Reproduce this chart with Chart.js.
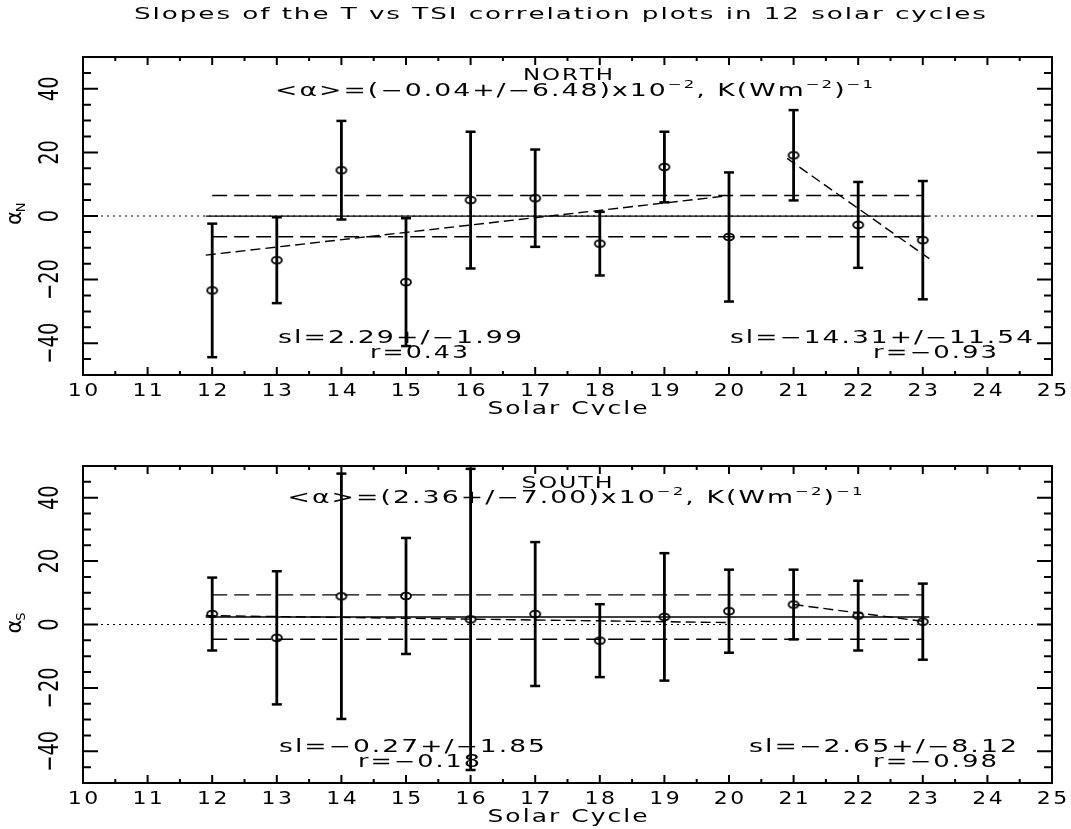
<!DOCTYPE html>
<html>
<head>
<meta charset="utf-8">
<script src="https://cdn.jsdelivr.net/npm/chart.js@4.4.0/dist/chart.umd.min.js"></script>
<style>
  html, body { margin: 0; padding: 0; background: #fff; }
  #wrap { position: relative; width: 1071px; height: 829px; }
  canvas { position: absolute; left: 0; }
  #north { top: 0; }
  #south { top: 415px; }
</style>
</head>
<body>
<div id="wrap">
  <canvas id="north" width="1071" height="415"></canvas>
  <canvas id="south" width="1071" height="414"></canvas>
</div>
<script>
// solar cycles and slopes
var cycles = [12, 13, 14, 15, 16, 17, 18, 19, 20, 21, 22, 23];

var northAlpha = [-23.4, -13.9, 14.4, -20.8, 5.0, 5.6, -8.7, 15.4, -6.6, 19.1, -2.8, -7.6];
var northErr   = [21.0, 13.5, 15.5, 20.1, 21.5, 15.3, 10.0, 11.1, 20.3, 14.2, 13.5, 18.6];
var northMean  = -0.04;
var northSigma = 6.48;

var southAlpha = [3.3, -4.2, 8.9, 9.0, 1.6, 3.3, -5.1, 2.4, 4.2, 6.3, 2.8, 0.9];
var southErr   = [11.5, 21.0, 38.7, 18.3, 47.5, 22.7, 11.5, 20.1, 13.1, 11.0, 11.0, 12.0];
var southMean  = 2.36;
var southSigma = 7.00;

// end points of the fitted trend lines
var northFit1X = [11.9, 20.0], northFit1Y = [-12.3, 6.4];
var northFit2X = [20.9, 23.1], northFit2Y = [18.1, -13.4];
var southFit1X = [11.9, 20.0], southFit1Y = [2.8, 0.6];
var southFit2X = [21.0, 23.0], southFit2Y = [6.3, 1.0];

var meanSpan  = [11.9, 23.1];
var sigmaSpan = [12.0, 23.0];

var yTickLabels = [-40, -20, 0, 20, 40];

var FONT = '"DejaVu Sans", sans-serif';

// open ellipse marker
var ring = document.createElement('canvas');
ring.width = 14; ring.height = 10;
(function () {
    var g = ring.getContext('2d');
    g.strokeStyle = '#000';
    g.lineWidth = 1.8;
    g.beginPath();
    g.ellipse(7, 5, 5, 3.4, 0, 0, 2 * Math.PI);
    g.stroke();
})();

// text with wide, stretched glyphs like the plotting package's stroke font
function drawText(ctx, segs, x, y, size, opt) {
    if (typeof segs === 'string') segs = [[segs, false]];
    opt = opt || {};
    var sp = opt.spacing != null ? opt.spacing : size * 0.12;
    var w = 0, n = 0;
    segs.forEach(function (s) {
        ctx.font = (s[1] ? size * 0.62 : size) + 'px ' + FONT;
        for (var ch of s[0]) { w += ctx.measureText(ch).width; n++; }
    });
    var sx = opt.width ? (opt.width - sp * (n - 1)) / w : (opt.scale || 1);
    var total = w * sx + sp * (n - 1);
    var cx = opt.align === 'center' ? x - total / 2 : (opt.align === 'right' ? x - total : x);
    ctx.textAlign = 'left';
    ctx.textBaseline = 'alphabetic';
    segs.forEach(function (s) {
        ctx.font = (s[1] ? size * 0.62 : size) + 'px ' + FONT;
        var dy = s[1] ? -size * 0.45 : 0;
        for (var ch of s[0]) {
            ctx.save();
            ctx.translate(cx, y + dy);
            ctx.scale(sx, 1);
            ctx.fillText(ch, 0, 0);
            ctx.restore();
            cx += ctx.measureText(ch).width * sx + sp;
        }
    });
}

var framePlugin = {
    id: 'frame',
    afterDraw: function (chart, args, o) {
        var ctx = chart.ctx, a = chart.chartArea;
        var xs = chart.scales.x, ys = chart.scales.y;
        ctx.save();
        ctx.fillStyle = '#000';
        ctx.strokeStyle = '#000';
        ctx.lineWidth = 2;
        ctx.strokeRect(a.left, a.top, a.right - a.left, a.bottom - a.top);

        ctx.beginPath();
        for (var v = xs.min; v <= xs.max + 1e-9; v += 0.5) {
            var px = xs.getPixelForValue(v);
            var len = (v % 1 === 0) ? 8 : 4;
            ctx.moveTo(px, a.bottom); ctx.lineTo(px, a.bottom - len);
            ctx.moveTo(px, a.top); ctx.lineTo(px, a.top + len);
        }
        for (var w = ys.min; w <= ys.max + 1e-9; w += 5) {
            var py = ys.getPixelForValue(w);
            var l = (w % 20 === 0) ? 15 : 8;
            ctx.moveTo(a.left, py); ctx.lineTo(a.left + l, py);
            ctx.moveTo(a.right, py); ctx.lineTo(a.right - l, py);
        }
        ctx.stroke();

        // x tick labels from the library's ticks
        xs.ticks.forEach(function (t) {
            drawText(ctx, String(t.value), xs.getPixelForValue(t.value), a.bottom + 20.5, 18, { scale: 1.22, spacing: 2.5, align: 'center' });
        });
        drawText(ctx, 'Solar Cycle', (a.left + a.right) / 2, a.bottom + 38.5, 17, { width: 160, align: 'center' });

        // rotated y tick labels
        yTickLabels.forEach(function (v) {
            var py = ys.getPixelForValue(v);
            ctx.save();
            ctx.translate(58, py);
            ctx.rotate(-Math.PI / 2);
            ctx.scale(0.72, 1);
            ctx.font = '27px ' + FONT;
            ctx.textAlign = 'center';
            ctx.textBaseline = 'alphabetic';
            ctx.fillText(v < 0 ? '\u2212' + Math.abs(v) : String(v), 0, 0);
            ctx.restore();
        });

        // y axis title, alpha with subscript
        var p0 = ys.getPixelForValue(0);
        ctx.save();
        ctx.translate(21, p0 + 9);
        ctx.rotate(-Math.PI / 2);
        ctx.font = '21px ' + FONT;
        ctx.textAlign = 'left';
        ctx.fillText('\u03b1', 0, 0);
        var aw = ctx.measureText('\u03b1').width;
        ctx.font = '13px ' + FONT;
        ctx.fillText(o.sub, aw - 1, 4);
        ctx.restore();

        o.texts.forEach(function (t) {
            drawText(ctx, t.segs, t.x, t.y, t.size, { width: t.width, align: t.align });
        });
        if (o.title) {
            drawText(ctx, o.title, 560, 18.5, 16, { width: 852, align: 'center' });
        }
        ctx.restore();
    }
};

function panelDatasets(alpha, err, mean, sigma, fit1X, fit1Y, fit2X, fit2Y) {
    var bars = [], caps = [], pts = [];
    cycles.forEach(function (c, i) {
        bars.push({ x: c, y: alpha[i] - err[i] }, { x: c, y: alpha[i] + err[i] }, { x: c, y: null });
        caps.push({ x: c, y: alpha[i] - err[i] }, { x: c, y: alpha[i] + err[i] });
        pts.push({ x: c, y: alpha[i] });
    });
    var line = function (data, width, dash) {
        return { data: data, showLine: true, spanGaps: false, pointRadius: 0, borderColor: '#000',
                 borderWidth: width, borderDash: dash || [], fill: false };
    };
    return [
        { data: pts, pointStyle: ring, pointRadius: 5, borderColor: '#000' },
        { data: caps, pointStyle: 'line', pointRadius: 5, borderWidth: 2.5, borderColor: '#000' },
        line(bars, 2.8),
        line([{ x: fit1X[0], y: fit1Y[0] }, { x: fit1X[1], y: fit1Y[1] }], 1.4, [10, 5]),
        line([{ x: fit2X[0], y: fit2Y[0] }, { x: fit2X[1], y: fit2Y[1] }], 1.4, [10, 5]),
        line([{ x: sigmaSpan[0], y: mean + sigma }, { x: sigmaSpan[1], y: mean + sigma }], 1.4, [15, 7]),
        line([{ x: sigmaSpan[0], y: mean - sigma }, { x: sigmaSpan[1], y: mean - sigma }], 1.4, [15, 7]),
        line([{ x: meanSpan[0], y: mean }, { x: meanSpan[1], y: mean }], 1.4),
        line([{ x: 10, y: 0 }, { x: 25, y: 0 }], 1.2, [2, 4])
    ];
}

function makePanel(id, datasets, padTop, padBottom, frameOpts) {
    var ctx = document.getElementById(id).getContext('2d');
    return new Chart(ctx, {
        type: 'scatter',
        data: { datasets: datasets },
        options: {
            responsive: false,
            animation: false,
            devicePixelRatio: 1,
            layout: { padding: { left: 83, right: 19, top: padTop, bottom: padBottom } },
            plugins: { legend: { display: false }, tooltip: { enabled: false }, frame: frameOpts },
            scales: {
                x: { type: 'linear', min: 10, max: 25, ticks: { stepSize: 1, display: false },
                     grid: { display: false }, border: { display: false },
                     afterFit: function (s) { s.height = 0; } },
                y: { type: 'linear', min: -50, max: 50, ticks: { display: false },
                     grid: { display: false }, border: { display: false },
                     afterFit: function (s) { s.width = 0; } }
            }
        },
        plugins: [framePlugin]
    });
}

var M = '\u2212';

makePanel('north',
    panelDatasets(northAlpha, northErr, northMean, northSigma, northFit1X, northFit1Y, northFit2X, northFit2Y),
    57, 40, {
        sub: 'N',
        title: 'Slopes of the T vs TSI correlation plots in 12 solar cycles',
        texts: [
            { segs: 'NORTH', x: 568, y: 80, size: 16, width: 90, align: 'center' },
            { segs: [['<\u03b1>=(' + M + '0.04+/' + M + '6.48)x10', false], [M + '2', true], [', K(Wm', false], [M + '2', true], [')', false], [M + '1', true]],
              x: 574, y: 96, size: 17, width: 598, align: 'center' },
            { segs: 'sl=2.29+/' + M + '1.99', x: 278, y: 343, size: 17, width: 244 },
            { segs: 'r=0.43', x: 370, y: 358, size: 17, width: 98 },
            { segs: 'sl=' + M + '14.31+/' + M + '11.54', x: 730, y: 343, size: 17, width: 303 },
            { segs: 'r=' + M + '0.93', x: 873, y: 358, size: 17, width: 124 }
        ]
    });

makePanel('south',
    panelDatasets(southAlpha, southErr, southMean, southSigma, southFit1X, southFit1Y, southFit2X, southFit2Y),
    51, 46, {
        sub: 'S',
        texts: [
            { segs: 'SOUTH', x: 567, y: 73, size: 16, width: 91, align: 'center' },
            { segs: [['<\u03b1>=(2.36+/' + M + '7.00)x10', false], [M + '2', true], [', K(Wm', false], [M + '2', true], [')', false], [M + '1', true]],
              x: 575, y: 88, size: 17, width: 575, align: 'center' },
            { segs: 'sl=' + M + '0.27+/' + M + '1.85', x: 279, y: 337, size: 17, width: 266 },
            { segs: 'r=' + M + '0.18', x: 358, y: 352, size: 17, width: 122 },
            { segs: 'sl=' + M + '2.65+/' + M + '8.12', x: 749, y: 337, size: 17, width: 268 },
            { segs: 'r=' + M + '0.98', x: 873, y: 352, size: 17, width: 124 }
        ]
    });
</script>
</body>
</html>
